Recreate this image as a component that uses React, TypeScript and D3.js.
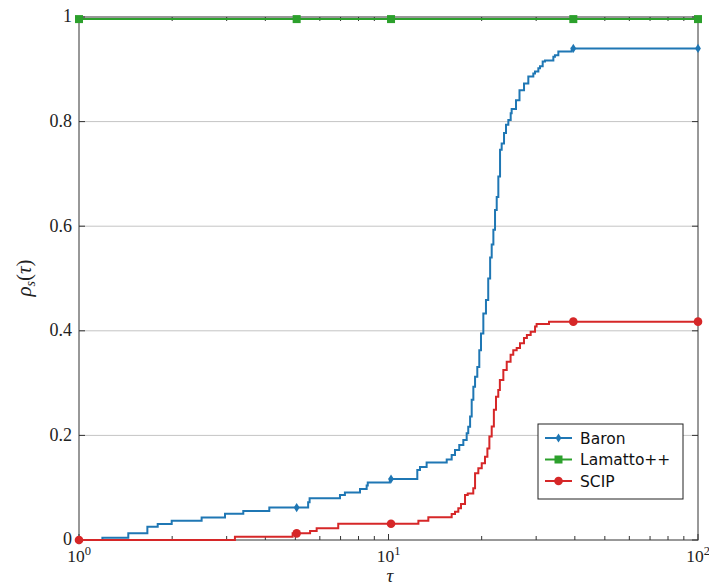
import React from "react";
import * as d3 from "d3";

// Performance profile: fraction of instances solved within factor tau of the best solver
const baronTau = [1, 1.19, 1.443, 1.663, 1.796, 1.993, 2.49, 2.963, 3.395, 4.12, 5.5, 5.56, 6.97, 7.23, 8.09, 8.5, 8.57, 10.1, 12.39, 12.64, 13.28, 15.42, 16.0, 16.4, 16.93, 17.45, 17.89, 18.1, 18.35, 18.57, 18.8, 19.04, 19.36, 19.65, 19.9, 20.25, 20.65, 21.0, 21.3, 21.55, 21.82, 22.09, 22.37, 22.64, 22.93, 23.21, 23.62, 23.97, 24.39, 24.82, 25.0, 25.82, 26.5, 27.41, 28.3, 29.37, 29.74, 30.49, 30.87, 31.49, 32.04, 34.09, 34.5, 35.38, 39.07, 100];
const baronRho = [0, 0.0044, 0.0127, 0.0255, 0.0306, 0.037, 0.043, 0.05, 0.0555, 0.062, 0.072, 0.08, 0.086, 0.091, 0.0975, 0.104, 0.11, 0.1166, 0.134, 0.1395, 0.148, 0.154, 0.1625, 0.172, 0.1816, 0.191, 0.204, 0.2167, 0.236, 0.268, 0.293, 0.312, 0.331, 0.363, 0.395, 0.433, 0.459, 0.5, 0.54, 0.565, 0.593, 0.631, 0.656, 0.695, 0.746, 0.758, 0.778, 0.794, 0.803, 0.816, 0.824, 0.841, 0.86, 0.873, 0.886, 0.892, 0.896, 0.902, 0.906, 0.915, 0.917, 0.924, 0.927, 0.934, 0.94, 0.94];

const lamattoTau = [1, 100];
const lamattoRho = [0.996, 0.996];

const scipTau = [1, 3.19, 4.9, 5.58, 5.86, 6.88, 12.49, 13.45, 16.0, 16.4, 16.81, 17.15, 17.67, 18.03, 18.79, 19.04, 19.51, 20.01, 20.5, 20.87, 21.18, 21.55, 21.9, 22.25, 22.63, 22.9, 23.5, 24.1, 24.8, 25.3, 25.95, 26.6, 27.4, 28.0, 28.8, 29.75, 30.1, 33.0, 100];
const scipRho = [0, 0.0064, 0.0127, 0.0172, 0.0223, 0.031, 0.037, 0.0434, 0.0497, 0.054, 0.0606, 0.0688, 0.086, 0.089, 0.0988, 0.1275, 0.137, 0.1466, 0.159, 0.175, 0.198, 0.217, 0.249, 0.274, 0.287, 0.306, 0.325, 0.341, 0.354, 0.363, 0.367, 0.376, 0.386, 0.392, 0.398, 0.408, 0.413, 0.4175, 0.4175];

// tau positions where plot marks are placed
const markTau = [1, 5.05, 10.19, 39.55, 100];

const yTicks = [0, 0.2, 0.4, 0.6, 0.8, 1];
const yTickLabels = ["0", "0.2", "0.4", "0.6", "0.8", "1"];
const xMajor = [1, 10, 100];
const xMajorExp = ["0", "1", "2"];

const seriesNames = ["Baron", "Lamatto++", "SCIP"];
const seriesColors = ["#1f77b4", "#2ca02c", "#d62728"];
const seriesMarks = ["diamond", "square", "circle"];

type Pt = [number, number];

const W = 709;
const H = 586;
const left = 79;
const right = 698;
const top = 17;
const bottom = 540;

const x = d3.scaleLog().domain([1, 100]).range([left, right]);
const y = d3.scaleLinear().domain([0, 1]).range([bottom, top]);

const zip = (t: number[], r: number[]): Pt[] => t.map((v, i) => [v, r[i]]);
const series: Pt[][] = [zip(baronTau, baronRho), zip(lamattoTau, lamattoRho), zip(scipTau, scipRho)];

const stepAt = (pts: Pt[], t: number) => {
  const i = d3.bisector((p: Pt) => p[0]).right(pts, t) - 1;
  return pts[Math.max(0, i)][1];
};

const line = d3
  .line<Pt>()
  .x((d) => x(d[0]))
  .y((d) => y(d[1]))
  .curve(d3.curveStepAfter);

const minorTicks: number[] = [];
for (const dec of [1, 10]) for (let k = 2; k <= 9; k++) minorTicks.push(dec * k);

function Mark({ kind, cx, cy, color }: { kind: string; cx: number; cy: number; color: string }) {
  if (kind === "circle") return <circle cx={cx} cy={cy} r={4.3} fill={color} />;
  if (kind === "square") return <rect x={cx - 4} y={cy - 4} width={8} height={8} fill={color} />;
  return (
    <path
      d={`M${cx},${cy - 4.6}L${cx + 2.9},${cy}L${cx},${cy + 4.6}L${cx - 2.9},${cy}Z`}
      fill={color}
    />
  );
}

export default function App() {
  const serif = "'Liberation Serif', 'DejaVu Serif', serif";
  const sans = "'DejaVu Sans', sans-serif";
  const axisColor = "#333";
  return (
    <svg width={W} height={H} style={{ position: "absolute", left: 0, top: 0, background: "#fff" }}>
      {/* horizontal grid */}
      {yTicks
        .filter((v) => v > 0 && v < 1)
        .map((v) => (
          <line key={v} x1={left} x2={right} y1={y(v)} y2={y(v)} stroke="#c4c4c4" strokeWidth={1} />
        ))}

      {/* frame */}
      <rect x={left} y={top} width={right - left} height={bottom - top} fill="none" stroke={axisColor} strokeWidth={1} />

      {/* y ticks, inward on both sides */}
      {yTicks.map((v) => (
        <g key={v}>
          <line x1={left} x2={left + 6} y1={y(v)} y2={y(v)} stroke={axisColor} />
          <line x1={right - 6} x2={right} y1={y(v)} y2={y(v)} stroke={axisColor} />
        </g>
      ))}
      {/* x ticks, inward on top and bottom */}
      {xMajor.map((v) => (
        <g key={v}>
          <line x1={x(v)} x2={x(v)} y1={bottom} y2={bottom - 6} stroke={axisColor} />
          <line x1={x(v)} x2={x(v)} y1={top} y2={top + 6} stroke={axisColor} />
        </g>
      ))}
      {minorTicks.map((v) => (
        <g key={v}>
          <line x1={x(v)} x2={x(v)} y1={bottom} y2={bottom - 4} stroke={axisColor} />
          <line x1={x(v)} x2={x(v)} y1={top} y2={top + 4} stroke={axisColor} />
        </g>
      ))}

      {/* tick labels */}
      {yTicks.map((v, i) => (
        <text key={v} x={72} y={y(v)} dy="0.3em" textAnchor="end" fontFamily={serif} fontSize={18} fill="#222">
          {yTickLabels[i]}
        </text>
      ))}
      {xMajor.map((v, i) => (
        <text key={v} x={x(v)} y={561.5} textAnchor="middle" fontFamily={serif} fontSize={17.5} fill="#222">
          10
          <tspan dy={-7} fontSize={12.5}>
            {xMajorExp[i]}
          </tspan>
        </text>
      ))}

      {/* axis titles */}
      <text x={390} y={581.5} textAnchor="middle" fontFamily={serif} fontStyle="italic" fontSize={19} fill="#222">
        τ
      </text>
      <text
        transform="translate(31,278) rotate(-90)"
        textAnchor="middle"
        fontFamily={serif}
        fontSize={21}
        fill="#222"
      >
        <tspan fontStyle="italic">ρ</tspan>
        <tspan fontStyle="italic" fontSize={14} dy={4}>
          s
        </tspan>
        <tspan dy={-4}>(</tspan>
        <tspan fontStyle="italic">τ</tspan>
        <tspan>)</tspan>
      </text>

      {/* curves */}
      {series.map((pts, i) => (
        <path key={i} d={line(pts) ?? ""} fill="none" stroke={seriesColors[i]} strokeWidth={2} />
      ))}
      {series.map((pts, i) =>
        markTau.map((t) => (
          <Mark key={`${i}-${t}`} kind={seriesMarks[i]} cx={x(t)} cy={y(stepAt(pts, t))} color={seriesColors[i]} />
        ))
      )}

      {/* legend */}
      <g transform="translate(538,424)">
        <rect x={0} y={0} width={145} height={75} fill="#fff" stroke="#222" strokeWidth={1} />
        {seriesNames.map((name, i) => {
          const ry = 14 + i * 21.5;
          return (
            <g key={name}>
              <line x1={7} x2={34} y1={ry} y2={ry} stroke={seriesColors[i]} strokeWidth={2} />
              <Mark kind={seriesMarks[i]} cx={20.5} cy={ry} color={seriesColors[i]} />
              <text x={42} y={ry} dy="0.36em" fontFamily={sans} fontSize={15.5} fill="#111">
                {name}
              </text>
            </g>
          );
        })}
      </g>
    </svg>
  );
}
